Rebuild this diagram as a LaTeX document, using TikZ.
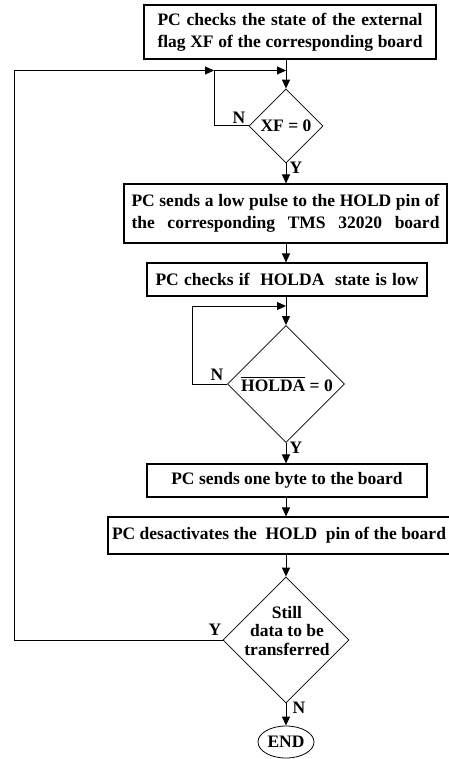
\documentclass[tikz,border=0pt]{standalone}
\usepackage{fontspec}
\setmainfont{Liberation Serif}
\usetikzlibrary{shapes.geometric,arrows.meta}
\begin{document}
\begin{tikzpicture}[x=1pt,y=-1pt,
  font=\fontsize{17.5}{22}\selectfont\bfseries,
  box/.style={draw, line width=1.1pt, inner sep=0pt, align=center},
  dec/.style={diamond, draw, line width=0.8pt, inner sep=0pt, aspect=1},
  flow/.style={line width=1pt, -{Triangle[length=9pt,width=8pt]}},
  link/.style={line width=1pt},
  lbl/.style={inner sep=0pt}]
\useasboundingbox (0,0) rectangle (448,759);

% main column and loop rails
\coordinate (axis) at (286,0);
\coordinate (j1) at (286,70.5);
\coordinate (j0) at (214,70.5);
\coordinate (outer) at (14,70.5);
\coordinate (j2) at (286,306);
\coordinate (k2) at (192,306);

% process boxes
\node[box, minimum width=292pt, minimum height=54pt] (b1) at (290,32)
  {\makebox[265pt][s]{PC checks the state of the external}\\
   \makebox[265pt][s]{flag XF of the corresponding board}};
\node[box, minimum width=323pt, minimum height=59pt] (b2) at (285.5,213.5)
  {\makebox[308pt][s]{PC sends a low pulse to the HOLD pin of}\\
   \makebox[308pt][s]{the corresponding TMS 32020 board}};
\node[box, minimum width=280pt, minimum height=33pt] (b3) at (287,279.5)
  {\makebox[263pt][s]{PC checks if\ \ HOLDA\ \ state is low}};
\node[box, minimum width=280pt, minimum height=33pt] (b4) at (287,480.5)
  {PC sends one byte to the board};
\node[box, minimum width=342pt, minimum height=37pt] (b5) at (279,535.5)
  {PC desactivates the\ \ HOLD\ \ pin of the board};

% decisions
\node[dec, minimum width=74pt, minimum height=74pt] (d1) at (286,126) {};
\node[lbl] (d1t) at (d1) {XF = 0};
\node[dec, minimum width=117pt, minimum height=117pt] (d2) at (286,384) {};
\node[lbl] (d2t) at (287,384) {$\overline{\mbox{HOLDA}\rule{0pt}{13.5pt}}$ = 0};
\node[dec, minimum width=126pt, minimum height=126pt] (d3) at (286,640) {};
\node[lbl, align=center, font=\fontsize{17.5}{18.5}\selectfont\bfseries]
  (d3t) at (287,631) {Still\\data to be\\transferred};

% terminator
\node[ellipse, draw, line width=0.8pt, inner sep=0pt,
      minimum width=56pt, minimum height=32pt] (stop) at (286,742) {END};

% connectors
\draw[link] (b1.south -| axis) -- (j1);
\draw[flow] (d3.west) -- (d3.west -| outer) -- (outer) -- (j0);
\draw[link] (d1.west) -- (d1.west -| j0) -- (j0);
\draw[flow] (j0) -- (j1);
\draw[flow] (j1) -- (d1.north);
\draw[flow] (d1.south) -- (b2.north -| axis);
\draw[flow] (b2.south -| axis) -- (b3.north -| axis);
\draw[link] (b3.south -| axis) -- (j2);
\draw[flow] (d2.west) -- (d2.west -| k2) -- (k2) -- (j2);
\draw[flow] (j2) -- (d2.north);
\draw[flow] (d2.south) -- (b4.north -| axis);
\draw[flow] (b4.south -| axis) -- (b5.north -| axis);
\draw[flow] (b5.south -| axis) -- (d3.north);
\draw[flow] (d3.south) -- (stop.north);

% branch labels
\node[lbl] (n1) at (239,118) {N};
\node[lbl] (y1) at (296,168) {Y};
\node[lbl] (n2) at (217,375) {N};
\node[lbl] (y2) at (296,448) {Y};
\node[lbl] (y3) at (215,630) {Y};
\node[lbl] (n3) at (299,708) {N};
\end{tikzpicture}
\end{document}
